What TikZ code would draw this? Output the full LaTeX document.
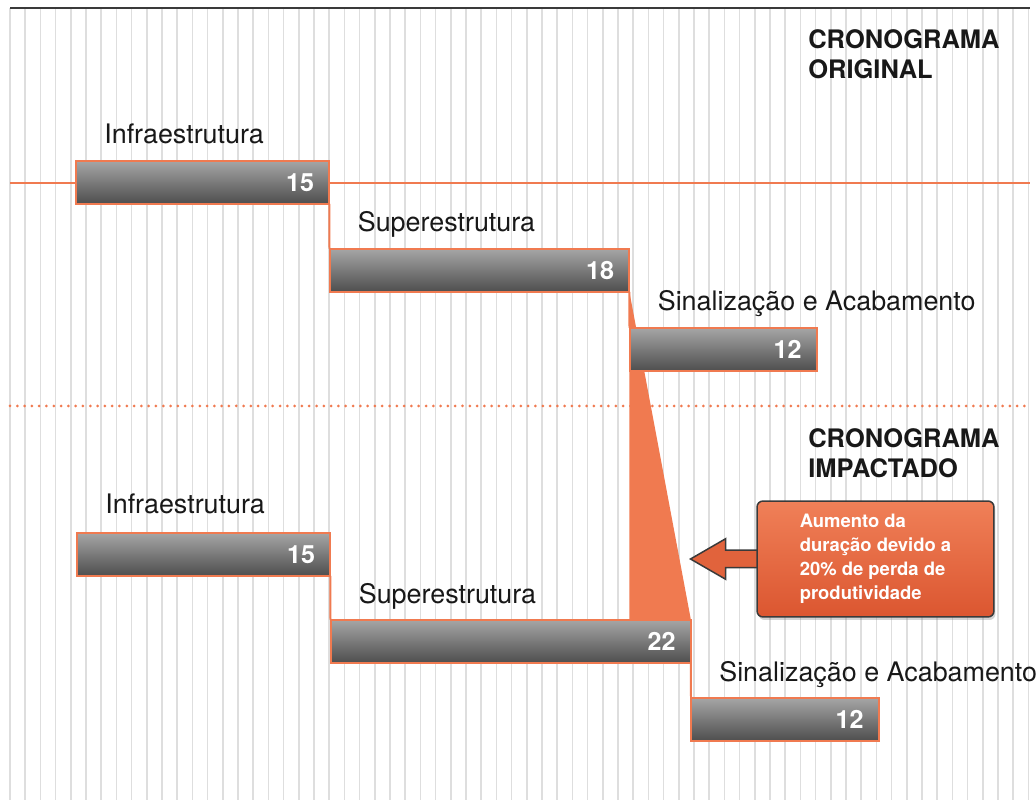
\documentclass[tikz,border=0pt]{standalone}
\usepackage{fontspec}
\setmainfont{TeX Gyre Heros}
\usetikzlibrary{positioning, shapes.arrows, shadows}

\definecolor{cronoOrange}{RGB}{240,122,80}
\definecolor{barTop}{RGB}{165,165,165}
\definecolor{barBottom}{RGB}{78,78,78}
\definecolor{gridGray}{RGB}{222,222,222}
\definecolor{inkGray}{RGB}{58,58,58}
\definecolor{textInk}{RGB}{24,24,24}
\definecolor{boxTop}{RGB}{240,128,88}
\definecolor{boxBottom}{RGB}{219,86,48}

\pgfdeclarelayer{backdrop}
\pgfdeclarelayer{links}
\pgfsetlayers{backdrop,links,main}

\tikzset{
  gridline/.style={draw=gridGray, line width=0.03cm},
  link/.style={draw=cronoOrange, line width=0.04cm},
  bar/.style={rectangle, draw=cronoOrange, line width=0.04cm,
    top color=barTop, bottom color=barBottom, outer sep=0pt,
    minimum width=#1, minimum height=0.86cm, inner sep=0pt, anchor=north west},
  barnum/.style={anchor=east, xshift=-0.3cm, inner sep=0pt, text=white,
    font=\bfseries\fontsize{14.3}{16}\selectfont},
  tasklabel/.style={anchor=base west, inner sep=0pt, text=textInk,
    font=\fontsize{15.3}{18}\selectfont},
  heading/.style={anchor=north west, inner sep=0pt, align=left, text=textInk,
    font=\bfseries\fontsize{14.5}{17}\selectfont},
  callout/.style={rectangle, rounded corners=0.12cm, draw=inkGray, line width=0.03cm,
    top color=boxTop, bottom color=boxBottom, text=white, align=left,
    minimum width=4.74cm, minimum height=2.32cm,
    font=\bfseries\fontsize{10.5}{13.7}\selectfont,
    drop shadow={opacity=0.35, shadow xshift=0.03cm, shadow yshift=-0.06cm}},
  pointer/.style={single arrow, shape border rotate=180, draw=inkGray, line width=0.03cm,
    fill=boxBottom!70!boxTop, minimum height=2cm, inner sep=0pt, inner ysep=0.16cm,
    single arrow head extend=0.23cm, single arrow tip angle=60}
}

\begin{document}
\begin{tikzpicture}[x=0.02cm, y=-0.02cm]
  \useasboundingbox (0,0) rectangle (1036,800);

  % time grid
  \begin{pgfonlayer}{backdrop}
    \foreach \k in {0,...,67}
      \draw[gridline] ({10+15.2*\k},8) -- ({10+15.2*\k},800);
    \draw[draw=inkGray, line width=0.055cm] (10,8) -- (1030,8);
    \coordinate (origL) at (10,183);
    \coordinate (origR) at (1030,183);
    \coordinate (splitL) at (10,406);
    \coordinate (splitR) at (1030,406);
    \draw[link] (origL) -- (origR);
    \draw[link, line width=0.06cm, line cap=round, dash pattern=on 0pt off 0.146cm]
      (splitL) -- (splitR);
  \end{pgfonlayer}

  % cronograma original
  \node[bar=5.07cm, label={[barnum]east:15}] (infraA) at (76,161) {};
  \node[bar=6.00cm, label={[barnum]east:18}] (superA) at (329.5,249) {};
  \node[bar=3.75cm, label={[barnum]east:12}] (sinalA) at (629.5,328) {};

  % cronograma impactado
  \node[bar=5.07cm, label={[barnum]east:15}] (infraB) at (77,533) {};
  \node[bar=7.21cm, label={[barnum]east:22}] (superB) at (330.5,620) {};
  \node[bar=3.76cm, label={[barnum]east:12}] (sinalB) at (691,698) {};

  \begin{pgfonlayer}{links}
    \fill[cronoOrange] (superA.south east) -- (superB.north east)
      -- (superA.south east |- superB.north) -- cycle;
    \path[link]
      (infraA.south east) edge (superA.north west)
      (superA.south east) edge (sinalA.north west)
      (infraB.south east) edge (superB.north west)
      (superB.south east) edge (sinalB.north west);
  \end{pgfonlayer}

  \node[tasklabel, above right=0.34cm and 0.56cm of infraA.north west, anchor=base west] (infraAlbl) {Infraestrutura};
  \node[tasklabel, above right=0.34cm and 0.56cm of superA.north west, anchor=base west] (superAlbl) {Superestrutura};
  \node[tasklabel, above right=0.34cm and 0.56cm of sinalA.north west, anchor=base west] (sinalAlbl) {Sinalização e Acabamento};
  \node[tasklabel, above right=0.40cm and 0.56cm of infraB.north west, anchor=base west] (infraBlbl) {Infraestrutura};
  \node[tasklabel, above right=0.34cm and 0.56cm of superB.north west, anchor=base west] (superBlbl) {Superestrutura};
  \node[tasklabel, above right=0.34cm and 0.56cm of sinalB.north west, anchor=base west] (sinalBlbl) {Sinalização e Acabamento};

  \node[heading] (titleA) at (808,29) {CRONOGRAMA\\ORIGINAL};
  \node[heading] (titleB) at (808,428) {CRONOGRAMA\\IMPACTADO};

  % callout
  \node[pointer, anchor=tip] (arrow) at (689,559) {};
  \node[callout] (note) at (875.5,559) {Aumento da\\duração devido a\\20\% de perda de\\produtividade};
\end{tikzpicture}
\end{document}
